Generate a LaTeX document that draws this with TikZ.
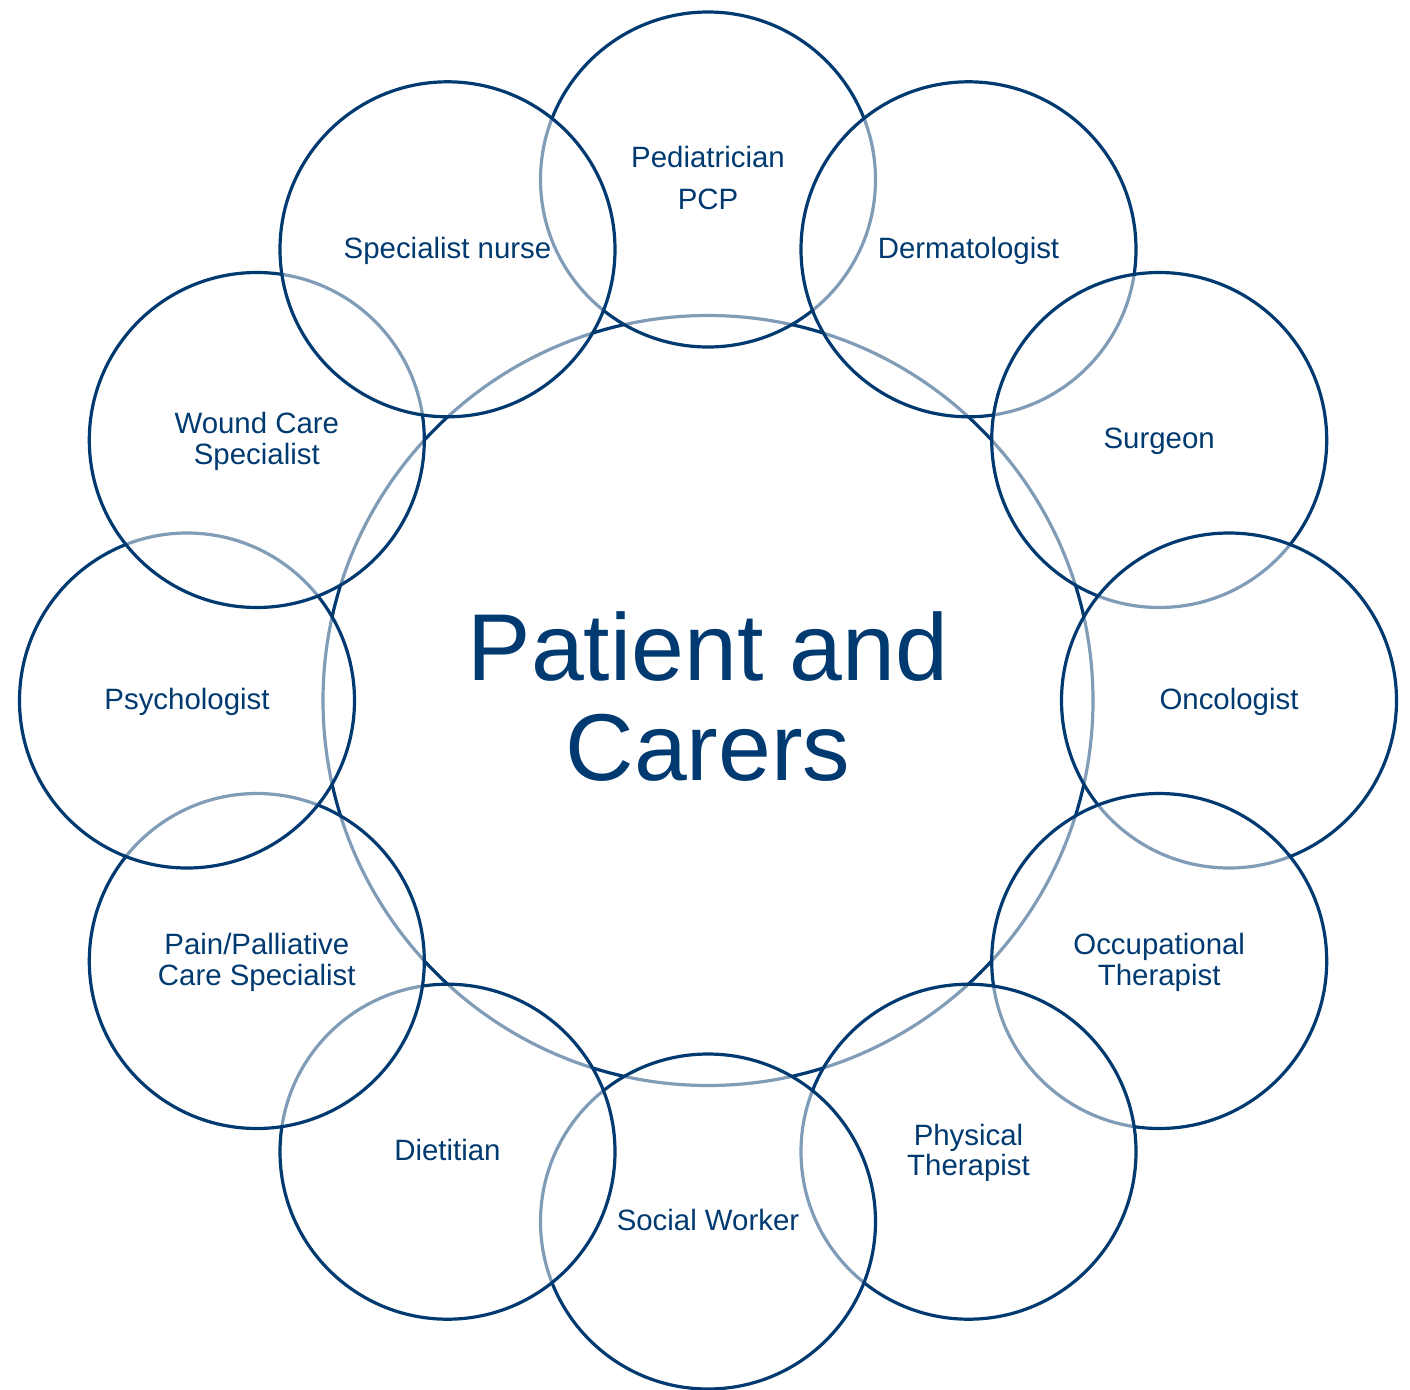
\documentclass[tikz,border=0pt]{standalone}
\usepackage{fontspec}
\setmainfont{Liberation Sans}
\definecolor{navy}{RGB}{0,58,112}
% fixed line box so every label sits at the same height in its circle
\newcommand\lblstrut{\rule[-6pt]{0pt}{30pt}}
\begin{document}
\begin{tikzpicture}[x=1pt,y=-1pt,
  member/.style={circle, draw=navy, line width=3.2pt, fill=white, fill opacity=0.5,
    text opacity=1, text=navy, minimum size=335pt, inner sep=0pt, align=center,
    font=\fontsize{29.4}{30.5}\selectfont},
  hub/.style={member, minimum size=770pt, font=\fontsize{95}{100}\selectfont}]
\useasboundingbox (0,0) rectangle (1410,1389);
\coordinate (o) at (708,700.5);
% the patient in the middle, drawn first so every team circle veils its rim
\node[hub] (hub) at (o) {Patient and\\Carers\rule[-8pt]{0pt}{8pt}};
% the care team, clockwise from the top; each circle veils the one before it
\foreach \name/\ang/\txt in {
    ped/-90/{Pediatrician\\[11pt]PCP},
    derm/-60/{Dermatologist},
    surg/-30/{Surgeon},
    onc/0/{Oncologist},
    ot/30/{Occupational\\Therapist},
    pt/60/{Physical\\Therapist},
    sw/90/{Social Worker},
    diet/120/{Dietitian},
    pain/150/{Pain/Palliative\\Care Specialist},
    psych/180/{Psychologist},
    wound/210/{Wound Care\\Specialist},
    nurse/240/{Specialist nurse}}
  \node[member] (\name) at ([shift={(\ang:521)}]o) {\lblstrut\txt\lblstrut};
\end{tikzpicture}
\end{document}
